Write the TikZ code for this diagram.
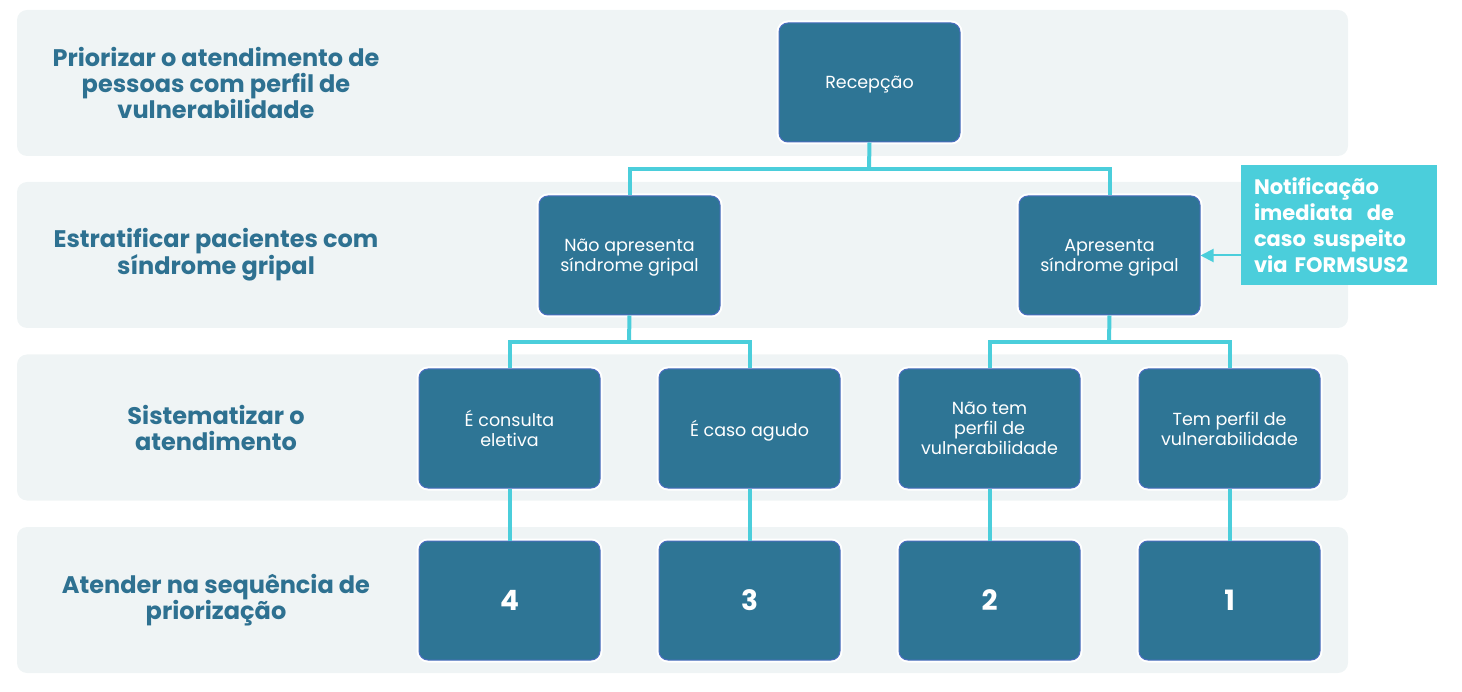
\documentclass[tikz,border=0pt]{standalone}
\usepackage{fontspec}
\setmainfont{Poppins}
\usetikzlibrary{arrows.meta}
\definecolor{bandbg}{HTML}{EFF4F5}
\definecolor{boxteal}{HTML}{2E7595}
\definecolor{cyanline}{HTML}{4BCEDB}
\definecolor{boxedge}{HTML}{4A6DBE}
\definecolor{labeltext}{HTML}{2E7191}
\begin{document}
\begin{tikzpicture}[x=1pt,y=-1pt,
  band/.style={fill=bandbg, rounded corners=10pt, minimum width=1331pt, minimum height=146pt, inner sep=0pt},
  box/.style={fill=boxteal, draw=boxedge, line width=1pt, rounded corners=9pt,
    minimum width=181pt, minimum height=119pt, text=white, align=center, text depth=0pt,
    font=\fontsize{17.5}{20}\selectfont, preaction={draw=white, line width=5pt}, inner sep=0pt},
  numbox/.style={box, font=\bfseries\fontsize{28}{32}\selectfont},
  link/.style={draw=cyanline, line width=4pt},
  label/.style={text=labeltext, font=\bfseries\fontsize{24}{26}\selectfont, align=center},
  notif/.style={fill=cyanline, text=white, font=\bfseries\fontsize{21}{26}\selectfont,
    align=left, minimum width=196pt, minimum height=118pt, text width=170pt, inner sep=13pt}
]
\useasboundingbox (0,0) rectangle (1462,692);
% bands
\node[band] (b1) at (682.5,83) {};
\node[band] (b2) at (682.5,255) {};
\node[band] (b3) at (682.5,427.5) {};
\node[band] (b4) at (682.5,600) {};
% left labels
\node[label] (l1) at (216,83) {Priorizar o atendimento de\\pessoas com perfil de\\vulnerabilidade};
\node[label] (l2) at (216,255) {Estratificar pacientes com\\síndrome gripal};
\node[label] (l3) at (216,428) {Sistematizar o\\atendimento};
\node[label] (l4) at (216,600) {Atender na sequência de\\priorização};
% junctions
\coordinate (j1) at (869,169);
\coordinate (j2) at (629,342);
\coordinate (j3) at (1109,342);
% boxes
\node[box] (rec) at (869.5,82.5) {Recepção};
\node[box] (nao) at (629.5,255.5) {Não apresenta\\síndrome gripal};
\node[box] (apr) at (1109.5,255.5) {Apresenta\\síndrome gripal};
\node[box] (c1) at (509.5,428.5) {É consulta\\eletiva};
\node[box] (c2) at (749.5,428.5) {É caso agudo};
\node[box] (c3) at (989.5,428.5) {Não tem\\perfil de\\vulnerabilidade};
\node[box] (c4) at (1229.5,428.5) {Tem perfil de\\vulnerabilidade};
\node[numbox] (n4) at (509.5,600.5) {4};
\node[numbox] (n3) at (749.5,600.5) {3};
\node[numbox] (n2) at (989.5,600.5) {2};
\node[numbox] (n1) at (1229.5,600.5) {1};
\node[notif] (nt) at (1339,225) {Notificação\\imediata~ de\\caso suspeito\\via FORMSUS2};
% connectors
\draw[link] (rec.south) -- (j1);
\draw[link] (nao.north) |- (j1) -| (apr.north);
\draw[link] (nao.south) -- (j2);
\draw[link] (c1.north) |- (j2) -| (c2.north);
\draw[link] (apr.south) -- (j3);
\draw[link] (c3.north) |- (j3) -| (c4.north);
\draw[link] (c1.south) -- (n4.north);
\draw[link] (c2.south) -- (n3.north);
\draw[link] (c3.south) -- (n2.north);
\draw[link] (c4.south) -- (n1.north);
\draw[draw=cyanline, line width=2pt, -{Triangle[length=13pt,width=13pt]}] (nt.west |- apr.east) -- (apr.east);
\end{tikzpicture}
\end{document}
